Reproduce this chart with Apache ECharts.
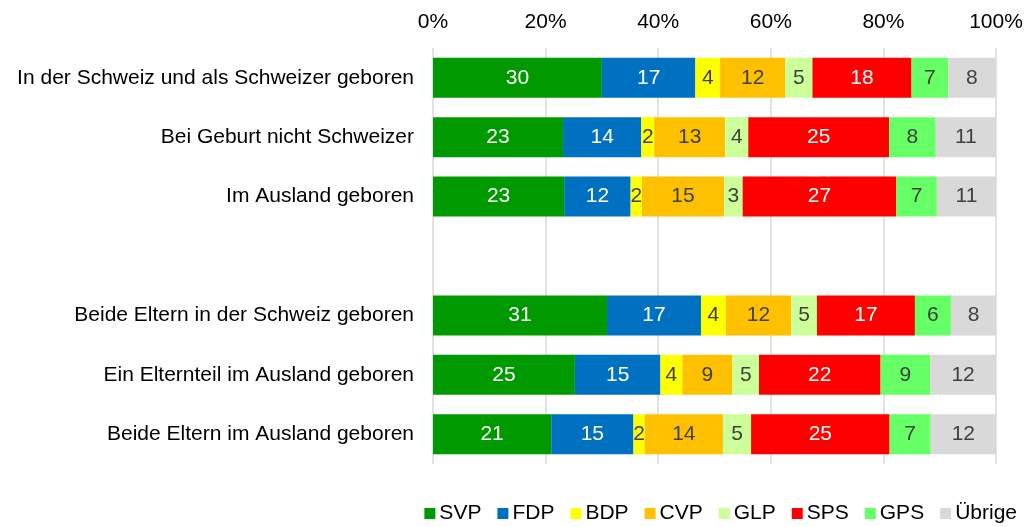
<!DOCTYPE html>
<html>
<head>
<meta charset="utf-8">
<script src="https://cdn.jsdelivr.net/npm/echarts@6/dist/echarts.min.js"></script>
<style>
html, body { margin: 0; padding: 0; background: #fff; }
#chart { width: 1027px; height: 527px; }
</style>
</head>
<body>
<div id="chart"></div>
<script>
// Kategorien (leere Zeile als Trenner)
const categories = [
  'In der Schweiz und als Schweizer geboren',
  'Bei Geburt nicht Schweizer',
  'Im Ausland geboren',
  '',
  'Beide Eltern in der Schweiz geboren',
  'Ein Elternteil im Ausland geboren',
  'Beide Eltern im Ausland geboren'
]
const xTicks = [0, 20, 40, 60, 80, 100]

// Parteistärken in %, aus den Balkenlängen geschätzt
const svp    = [30.0, 23.1, 23.3, null, 30.9, 25.2, 21.0]
const fdp    = [16.6, 13.9, 11.8, null, 16.7, 15.2, 14.6]
const bdp    = [4.4,  2.3,  2.0,  null, 4.4,  3.9,  2.0]
const cvp    = [11.6, 12.6, 14.6, null, 11.6, 8.9,  13.9]
const glp    = [4.8,  4.1,  3.3,  null, 4.6,  4.7,  5.0]
const sps    = [17.6, 25.0, 27.3, null, 17.4, 21.6, 24.6]
const gps    = [6.5,  8.3,  7.2,  null, 6.4,  8.8,  7.3]
const uebrige = [8.4, 10.7, 10.5, null, 8.0,  11.7, 11.6]

const parties = [
  { name: 'SVP', data: svp, color: '#009900', text: '#ffffff' },
  { name: 'FDP', data: fdp, color: '#0070c0', text: '#ffffff' },
  { name: 'BDP', data: bdp, color: '#ffff00', text: '#404040' },
  { name: 'CVP', data: cvp, color: '#ffc000', text: '#404040' },
  { name: 'GLP', data: glp, color: '#ccff99', text: '#404040' },
  { name: 'SPS', data: sps, color: '#ff0000', text: '#ffffff' },
  { name: 'GPS', data: gps, color: '#66ff66', text: '#404040' },
  { name: 'Übrige', data: uebrige, color: '#d9d9d9', text: '#404040' }
]

const font = 'Liberation Sans, Arial, sans-serif'

const chart = echarts.init(document.getElementById('chart'))
chart.setOption({
  animation: false,
  textStyle: { fontFamily: font },
  grid: { left: 433, right: 31, top: 48, bottom: 63, containLabel: false },
  legend: {
    top: 498,
    right: 5,
    itemWidth: 11,
    itemHeight: 11,
    itemGap: 16,
    icon: 'rect',
    textStyle: { fontSize: 21, color: '#000', fontFamily: font, padding: [0, 0, 0, -1] },
    data: parties.map(p => p.name)
  },
  xAxis: {
    type: 'value',
    position: 'top',
    min: xTicks[0],
    max: xTicks[xTicks.length - 1],
    interval: 20,
    axisLine: { show: false },
    axisTick: { show: false },
    axisLabel: {
      formatter: '{value}%',
      fontSize: 21,
      color: '#000',
      margin: 15
    },
    splitLine: { show: true, lineStyle: { color: '#d9d9d9', width: 1.5 } }
  },
  yAxis: {
    type: 'category',
    inverse: true,
    data: categories,
    axisLine: { show: false },
    axisTick: { show: false },
    axisLabel: { fontSize: 21, color: '#000', margin: 19 }
  },
  series: parties.map(p => ({
    name: p.name,
    type: 'bar',
    stack: 'total',
    barWidth: 40,
    data: p.data,
    itemStyle: { color: p.color },
    label: {
      show: true,
      position: 'inside',
      fontSize: 21,
      color: p.text,
      formatter: params => Math.round(params.value)
    }
  }))
})
</script>
</body>
</html>
